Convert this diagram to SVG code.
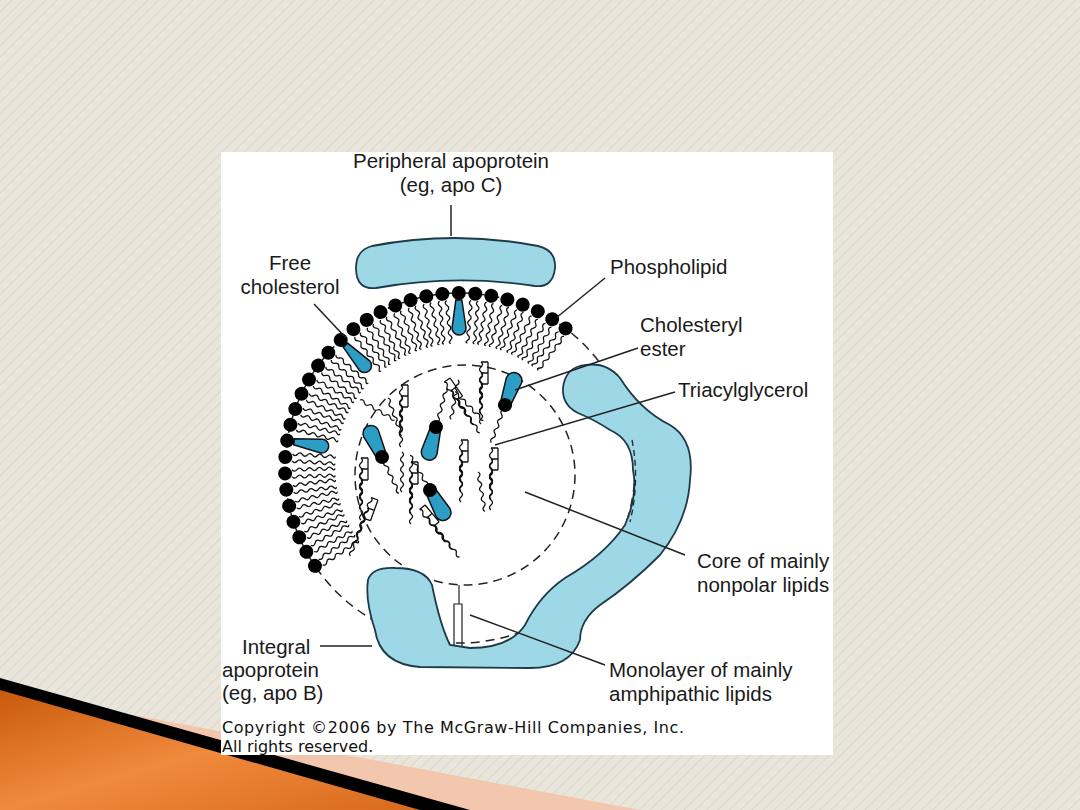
<svg xmlns="http://www.w3.org/2000/svg" xmlns:xlink="http://www.w3.org/1999/xlink" width="1080" height="810" viewBox="0 0 1080 810">
<style>
.t{font-family:"Liberation Sans",Arial,sans-serif;font-size:20.5px;fill:#1a1a1a}
.c{font-family:"DejaVu Sans",Verdana,sans-serif;font-size:16px;fill:#111}
.ld{stroke:#222;stroke-width:1.5;fill:none}
.w{stroke:#111;stroke-width:1.3;fill:none}
.apo{fill:#9ed8e7;stroke:#1d3a48;stroke-width:1.8}
.blue{fill:#2c9ec6;stroke:#111;stroke-width:1.5}
</style>
<defs>
<pattern id="hatch" width="8" height="8" patternUnits="userSpaceOnUse" patternTransform="rotate(45)">
<rect width="8" height="8" fill="#e9e5db"/><line x1="0" y1="0" x2="0" y2="8" stroke="#dcd7cb" stroke-width="2"/>
</pattern>
<linearGradient id="or" x1="0" y1="0" x2="1" y2="1">
<stop offset="0" stop-color="#c85a0c"/><stop offset="0.5" stop-color="#f08a3c"/><stop offset="1" stop-color="#d86a1c"/>
</linearGradient>
<path id="wv" class="w" d="M0,0 q-2.5,-3 -5,0 t-5,0 t-5,0 t-5,0 t-5,0 t-5,0 t-5,0 t-5,0 t-3,0"/>
<g id="pl"><use href="#wv" x="628" y="464.5"/><use href="#wv" x="628" y="471.5"/><circle cx="635" cy="468" r="7" fill="#000"/></g>
<g id="ch"><path class="blue" d="M628,465 L600,461 A7,7 0 0 0 600,475 L628,471 Z"/><circle cx="635" cy="468" r="7" fill="#000"/></g>
<path id="sq" class="w" d="M0,0 q3,2.5 0,5 t0,5 t0,5 t0,5 t0,5 t0,5 t0,5 t0,5"/>
<g id="ce"><path class="blue" d="M0,-5 L26,-8 A8,8 0 0 1 26,8 L0,5 Z"/><use href="#sq" transform="rotate(90)"/><circle cx="0" cy="0" r="7" fill="#000"/></g>
<g id="tg"><path class="w" d="M0,0 v22 M0,0 h-7 M0,11 h-7 M0,22 h-7"/><use href="#sq" x="-7" y="0"/><use href="#sq" x="-7" y="11"/><use href="#sq" x="-7" y="22"/></g>
</defs>
<rect width="1080" height="810" fill="url(#hatch)"/>
<polygon points="0,690 640,810 0,810" fill="#f2c7ad"/>
<polygon points="0,678 470,810 0,810" fill="#000"/>
<polygon points="0,690 420,810 0,810" fill="url(#or)"/>
<rect x="221" y="152" width="612" height="603" fill="#fff"/>

<g id="dashes">
<circle cx="460" cy="468" r="175" fill="none" stroke="#222" stroke-width="1.5" stroke-dasharray="9,6"/>
<circle cx="465" cy="475" r="110" fill="none" stroke="#222" stroke-width="1.5" stroke-dasharray="9,6"/>
</g>

<g id="membrane">
<use href="#pl" transform="rotate(146 460 468)"/><use href="#pl" transform="rotate(151.4 460 468)"/><use href="#pl" transform="rotate(156.7 460 468)"/><use href="#pl" transform="rotate(162.1 460 468)"/><use href="#pl" transform="rotate(167.5 460 468)"/><use href="#pl" transform="rotate(172.9 460 468)"/><use href="#pl" transform="rotate(178.2 460 468)"/><use href="#pl" transform="rotate(183.6 460 468)"/><use href="#ch" transform="rotate(189 460 468)"/><use href="#pl" transform="rotate(194.3 460 468)"/><use href="#pl" transform="rotate(199.7 460 468)"/><use href="#pl" transform="rotate(205.1 460 468)"/><use href="#pl" transform="rotate(210.4 460 468)"/><use href="#pl" transform="rotate(215.8 460 468)"/><use href="#pl" transform="rotate(221.2 460 468)"/><use href="#ch" transform="rotate(227 460 468)"/><use href="#pl" transform="rotate(232.5 460 468)"/><use href="#pl" transform="rotate(237.8 460 468)"/><use href="#pl" transform="rotate(243 460 468)"/><use href="#pl" transform="rotate(248.3 460 468)"/><use href="#pl" transform="rotate(253.6 460 468)"/><use href="#pl" transform="rotate(258.9 460 468)"/><use href="#pl" transform="rotate(264.2 460 468)"/><use href="#ch" transform="rotate(269.6 460 468)"/><use href="#pl" transform="rotate(275 460 468)"/><use href="#pl" transform="rotate(280.3 460 468)"/><use href="#pl" transform="rotate(285.7 460 468)"/><use href="#pl" transform="rotate(291 460 468)"/><use href="#pl" transform="rotate(296.4 460 468)"/><use href="#pl" transform="rotate(301.8 460 468)"/><use href="#pl" transform="rotate(307.1 460 468)"/>
</g>

<g id="core">
<use href="#tg" x="408" y="385"/><use href="#tg" transform="translate(450,378) rotate(-35)"/><use href="#tg" x="488" y="362"/>
<use href="#tg" x="368" y="458"/><use href="#tg" x="418" y="462"/><use href="#tg" x="468" y="440"/><use href="#tg" x="498" y="448"/>
<use href="#tg" transform="translate(378,500) rotate(20)"/><use href="#tg" transform="translate(425,505) rotate(-40)"/>
<use href="#sq" transform="translate(360,400) rotate(-60)"/><use href="#sq" transform="translate(388,398) rotate(-20)"/>
<use href="#sq" transform="translate(455,392) rotate(-45)"/><use href="#sq" transform="translate(478,472) rotate(-10)"/>
<use href="#sq" transform="translate(458,380) rotate(10)"/><use href="#sq" x="402" y="452"/>
<use href="#ce" transform="translate(505,405) rotate(-70)"/>
<use href="#ce" transform="translate(382,457) rotate(-115)"/>
<use href="#ce" transform="translate(436,427) rotate(105)"/>
<use href="#ce" transform="translate(430,490) rotate(60)"/>
</g>

<g id="apoC"><path class="apo" d="M372,246 Q455,230 538,246 Q556,250 555,268 Q553,288 535,286 Q455,274 376,288 Q356,290 356,268 Q356,250 372,246 Z"/></g>
<g id="apoB">
<path class="apo" d="M580,366 Q605,360 620,378 Q640,410 670,425 Q695,440 690,480 Q688,520 660,555 Q630,585 600,605 Q580,620 580,640 Q570,668 530,668 L420,667 Q380,664 375,630 Q365,600 368,580 Q372,567 395,568 Q425,568 432,585 Q440,625 450,645 L470,648 Q510,648 525,625 Q540,595 565,578 Q605,555 625,525 Q638,495 633,470 Q633,440 610,430 Q595,420 578,413 Q562,405 563,388 Q565,370 580,366 Z"/>
<path d="M632,440 Q640,480 630,522" fill="none" stroke="#222" stroke-width="1.3" stroke-dasharray="6,4"/>
<path d="M459,585 V604 M459,604 H454 V646 M459,604 H462 V646" fill="none" stroke="#222" stroke-width="1.2"/>
</g>

<g id="connectors">
<line class="ld" x1="451" y1="205" x2="451" y2="236"/>
<line class="ld" x1="314" y1="304" x2="346" y2="338"/>
<line class="ld" x1="605" y1="278" x2="556" y2="318"/>
<line class="ld" x1="638" y1="348" x2="515" y2="390"/>
<line class="ld" x1="675" y1="392" x2="495" y2="445"/>
<line class="ld" x1="685" y1="555" x2="525" y2="492"/>
<line class="ld" x1="320" y1="646" x2="372" y2="646"/>
<line class="ld" x1="605" y1="665" x2="470" y2="615"/>
</g>

<g id="labels">
<text class="t" x="451" y="168" text-anchor="middle">Peripheral apoprotein</text>
<text class="t" x="451" y="192" text-anchor="middle">(eg, apo C)</text>
<text class="t" x="290" y="270" text-anchor="middle">Free</text>
<text class="t" x="290" y="294" text-anchor="middle">cholesterol</text>
<text class="t" x="610" y="274">Phospholipid</text>
<text class="t" x="640" y="332">Cholesteryl</text>
<text class="t" x="640" y="356">ester</text>
<text class="t" x="678" y="397">Triacylglycerol</text>
<text class="t" x="697" y="568">Core of mainly</text>
<text class="t" x="697" y="592">nonpolar lipids</text>
<text class="t" x="242" y="654">Integral</text>
<text class="t" x="222" y="677">apoprotein</text>
<text class="t" x="222" y="700">(eg, apo B)</text>
<text class="t" x="609" y="677">Monolayer of mainly</text>
<text class="t" x="609" y="701">amphipathic lipids</text>
<text class="c" x="222" y="733" textLength="462">Copyright ©2006 by The McGraw-Hill Companies, Inc.</text>
<text class="c" x="222" y="752">All rights reserved.</text>
</g>
</svg>
